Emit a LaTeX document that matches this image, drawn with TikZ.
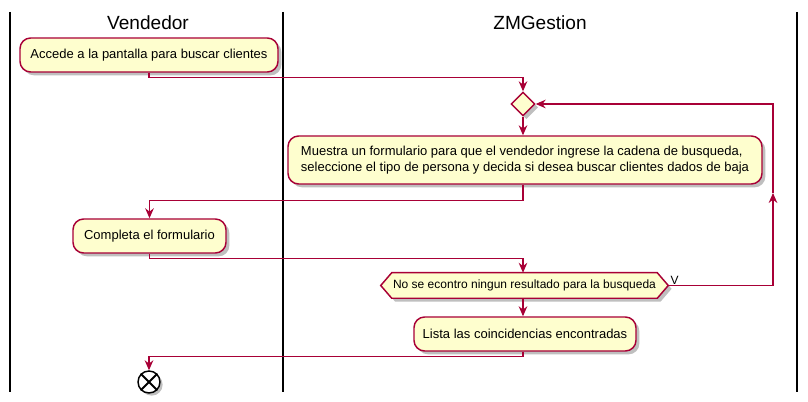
\documentclass[tikz,border=0pt]{standalone}
\usepackage{fontspec}
\setmainfont{Liberation Sans}
\usetikzlibrary{arrows.meta,shadows,calc,shapes.geometric}
\pgfdeclarelayer{background}
\pgfsetlayers{background,main}
\definecolor{umlline}{HTML}{A80036}
\definecolor{umlfill}{HTML}{FEFECE}
\tikzset{
  lane/.style={line width=1.5pt,black},
  lanetitle/.style={font=\fontsize{14.3}{17}\selectfont,inner sep=0pt},
  actbox/.style={draw=umlline,fill=umlfill,line width=1.1pt,rounded corners=8pt,
    font=\fontsize{9.75}{11.8}\selectfont,inner xsep=0pt,inner ysep=0pt,align=left,
    drop shadow={shadow xshift=2.5pt,shadow yshift=-2.5pt,opacity=0.25,fill=black}},
  flow/.style={draw=umlline,line width=0.8pt,-{Stealth[length=7.5pt,width=6.5pt,inset=2.5pt]}},
  dia/.style={draw=umlline,fill=umlfill,line width=1.1pt,diamond,inner sep=0pt,minimum size=24*0.75pt,
    drop shadow={shadow xshift=2.5pt,shadow yshift=-2.5pt,opacity=0.25,fill=black}},
}
\begin{document}
\begin{tikzpicture}[x=0.75pt,y=-0.75pt]
\useasboundingbox (0,0) rectangle (808,402);
% lanes
\coordinate (l1t) at (10,12); \coordinate (l1b) at (10,392);
\coordinate (l2t) at (283,12); \coordinate (l2b) at (283,392);
\coordinate (l3t) at (797,12); \coordinate (l3b) at (797,392);
\draw[lane] (l1t) -- (l1b);
\draw[lane] (l2t) -- (l2b);
\draw[lane] (l3t) -- (l3b);
\node[lanetitle] (t1) at (148,23) {Vendedor};
\node[lanetitle] (t2) at (540,23) {ZMGestion};
% activities
\node[actbox,minimum width=258*0.75pt,minimum height=34*0.75pt] (b1) at (149,55) {Accede a la pantalla para buscar clientes};
\node[dia] (d) at (523,104) {};
\node[actbox,minimum width=474*0.75pt,minimum height=48*0.75pt] (b2) at (525,160) {Muestra un formulario para que el vendedor ingrese la cadena de busqueda,\\seleccione el tipo de persona y decida si desea buscar clientes dados de baja};
\node[actbox,minimum width=153*0.75pt,minimum height=34*0.75pt] (b3) at (149.5,236) {Completa el formulario};
\node[inner sep=0pt,minimum width=287*0.75pt,minimum height=25*0.75pt,font=\fontsize{9}{11}\selectfont] (h) at (524.5,285.5) {No se econtro ningun resultado para la busqueda};
\begin{pgfonlayer}{background}
\draw[draw=umlline,fill=umlfill,line width=1.1pt,
    drop shadow={shadow xshift=2.5pt,shadow yshift=-2.5pt,opacity=0.25,fill=black}]
  (h.west) -- ($(h.north west)+(11,0)$) -- ($(h.north east)+(-11,0)$) -- (h.east)
  -- ($(h.south east)+(-11,0)$) -- ($(h.south west)+(11,0)$) -- cycle;
\end{pgfonlayer}
\node[font=\fontsize{9}{11}\selectfont,anchor=south west,inner sep=0pt] (v) at ($(h.east)+(2,-1)$) {V};
\node[actbox,minimum width=222*0.75pt,minimum height=34*0.75pt] (b4) at (525,334) {Lista las coincidencias encontradas};
\node[circle,draw=black,fill=white,line width=1.1pt,minimum size=22*0.75pt,inner sep=0pt,
    drop shadow={shadow xshift=2pt,shadow yshift=-2pt,opacity=0.25,fill=black}] (e) at (149,382) {};
\draw[line width=1.4pt] (e.45) -- (e.225) (e.135) -- (e.315);
% connectors
\draw[flow] (b1.south) -- ++(0,5) -| (d.north);
\draw[flow] (d.south) -- (b2.north -| d.south);
\draw[flow] (b2.south -| d.south) -- ++(0,16) -| (b3.north);
\draw[flow] (b3.south) -- ++(0,5) -| (h.north -| d.south);
\coordinate (lr) at (773,285.5);
\coordinate (lm) at (773,193);
\coordinate (lu) at (773,104);
\draw[flow] (h.east) -- (lr) -- (lm);
\draw[flow] (lm) -- (lu) -- (d.east);
\draw[flow] (h.south -| d.south) -- (b4.north -| d.south);
\draw[flow] (b4.south -| d.south) -- ++(0,5) -| (e.north);
\end{tikzpicture}
\end{document}
